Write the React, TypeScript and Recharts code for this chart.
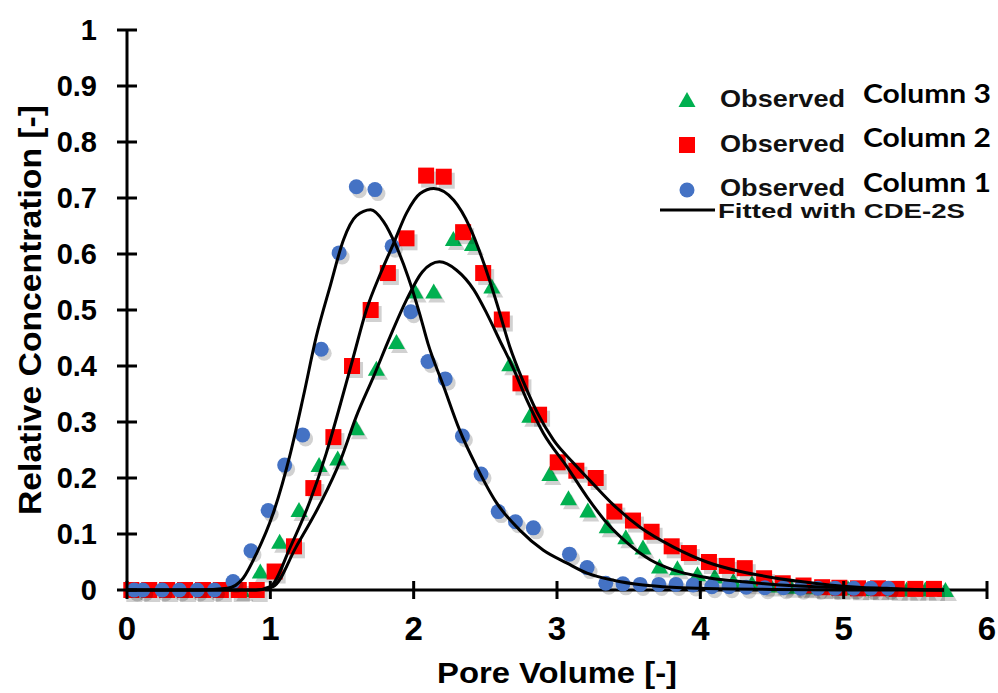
import { Scatter, ScatterChart, XAxis, YAxis } from "recharts";

const col1PV = [0.05, 0.11, 0.245, 0.365, 0.49, 0.61, 0.74, 0.865, 0.985, 1.1, 1.225, 1.355, 1.48, 1.6, 1.73, 1.85, 1.98, 2.1, 2.22, 2.34, 2.47, 2.59, 2.71, 2.835, 3.087, 3.21, 3.34, 3.46, 3.58, 3.71, 3.83, 3.95, 4.08, 4.2, 4.32, 4.45, 4.58, 4.7, 4.82, 4.94, 5.07, 5.19, 5.31];
const col1C = [0, 0, 0, 0, 0, 0, 0.015, 0.07, 0.142, 0.223, 0.277, 0.43, 0.602, 0.72, 0.715, 0.614, 0.497, 0.408, 0.377, 0.275, 0.207, 0.14, 0.122, 0.111, 0.064, 0.04, 0.012, 0.011, 0.01, 0.01, 0.01, 0.009, 0.006, 0.006, 0.005, 0.004, 0.004, 0.003, 0.003, 0.003, 0.003, 0.003, 0.003];

const col2PV = [0.03, 0.155, 0.28, 0.405, 0.53, 0.655, 0.78, 0.905, 1.03, 1.165, 1.3, 1.44, 1.57, 1.7, 1.82, 1.95, 2.087, 2.21, 2.345, 2.485, 2.615, 2.745, 2.875, 3.005, 3.135, 3.27, 3.4, 3.53, 3.66, 3.8, 3.92, 4.06, 4.185, 4.31, 4.445, 4.575, 4.72, 4.85, 4.97, 5.1, 5.24, 5.37, 5.5, 5.63];
const col2C = [0, 0, 0, 0, 0, 0, 0, 0, 0.033, 0.078, 0.182, 0.273, 0.4, 0.5, 0.566, 0.628, 0.74, 0.738, 0.639, 0.566, 0.483, 0.369, 0.313, 0.228, 0.213, 0.2, 0.14, 0.124, 0.104, 0.078, 0.066, 0.05, 0.043, 0.039, 0.021, 0.012, 0.008, 0.005, 0.004, 0.003, 0.003, 0.002, 0.002, 0.002];

const col3PV = [0.8, 0.93, 1.065, 1.2, 1.34, 1.47, 1.6, 1.74, 1.88, 2.01, 2.14, 2.277, 2.41, 2.545, 2.67, 2.81, 2.95, 3.08, 3.215, 3.35, 3.48, 3.6, 3.715, 3.84, 3.98, 4.1, 4.23, 4.36, 4.49, 4.63, 4.76, 4.9, 5.03, 5.17, 5.3, 5.44, 5.57, 5.71];
const col3C = [0, 0.033, 0.086, 0.143, 0.223, 0.235, 0.289, 0.395, 0.443, 0.533, 0.533, 0.627, 0.618, 0.542, 0.403, 0.311, 0.207, 0.164, 0.142, 0.114, 0.094, 0.076, 0.042, 0.039, 0.028, 0.024, 0.016, 0.012, 0.008, 0.006, 0.005, 0.004, 0.003, 0.002, 0.002, 0.001, 0.001, 0];

// CDE-2S fitted curves
const fit1PV = [0, 0.5, 0.7, 0.81, 0.905, 1.02, 1.14, 1.23, 1.32, 1.42, 1.51, 1.6, 1.7, 1.79, 1.88, 1.96, 2.04, 2.1, 2.21, 2.32, 2.44, 2.58, 2.74, 2.905, 3.07, 3.21, 3.4, 3.6, 3.8, 4.0, 4.5, 5.0, 5.7];
const fit1C = [0, 0, 0.003, 0.021, 0.066, 0.137, 0.244, 0.345, 0.452, 0.545, 0.625, 0.668, 0.679, 0.658, 0.613, 0.56, 0.495, 0.44, 0.363, 0.286, 0.22, 0.155, 0.107, 0.071, 0.048, 0.03, 0.017, 0.009, 0.005, 0.003, 0.001, 0, 0];

const fit2PV = [0, 0.9, 1.0, 1.14, 1.28, 1.39, 1.49, 1.58, 1.67, 1.77, 1.86, 1.95, 2.045, 2.14, 2.28, 2.39, 2.49, 2.58, 2.67, 2.765, 2.86, 2.975, 3.11, 3.25, 3.39, 3.58, 3.81, 4.045, 4.28, 4.51, 4.7, 4.9, 5.1, 5.3, 5.5, 5.7];
const fit2C = [0, 0, 0.006, 0.077, 0.161, 0.244, 0.333, 0.417, 0.5, 0.566, 0.619, 0.673, 0.708, 0.717, 0.696, 0.649, 0.583, 0.512, 0.435, 0.372, 0.318, 0.268, 0.228, 0.19, 0.153, 0.112, 0.077, 0.05, 0.033, 0.022, 0.015, 0.009, 0.005, 0.003, 0.001, 0];

const fit3PV = [0, 0.9, 1.02, 1.18, 1.35, 1.49, 1.6, 1.72, 1.835, 1.95, 2.06, 2.18, 2.3, 2.42, 2.51, 2.6, 2.7, 2.79, 2.905, 3.07, 3.21, 3.35, 3.49, 3.65, 3.81, 4.0, 4.28, 4.51, 4.8, 5.1, 5.4, 5.7];
const fit3C = [0, 0, 0.006, 0.077, 0.155, 0.232, 0.31, 0.381, 0.452, 0.518, 0.568, 0.586, 0.571, 0.536, 0.494, 0.446, 0.393, 0.339, 0.28, 0.22, 0.166, 0.119, 0.084, 0.054, 0.036, 0.024, 0.015, 0.01, 0.006, 0.003, 0.001, 0];

const xTicks = [0, 1, 2, 3, 4, 5, 6];
const yTicks = [0, 0.1, 0.2, 0.3, 0.4, 0.5, 0.6, 0.7, 0.8, 0.9, 1];
const yTickLabels = ["0", "0.1", "0.2", "0.3", "0.4", "0.5", "0.6", "0.7", "0.8", "0.9", "1"];

const GREEN = "#00B050";
const RED = "#FF0000";
const BLUE = "#4472C4";
const SHADOW = "rgba(0,0,0,0.18)";
const ARIAL = "'Liberation Sans', Arial, sans-serif";
const CALIBRI = "Lato, 'Open Sans', sans-serif";

const toPoints = (pv: number[], c: number[]) => pv.map((x, i) => ({ x, y: c[i] }));

function YTick(props: any) {
  const { x, y, index } = props;
  return (
    <g>
      <line x1={x - 10} x2={x + 10} y1={y} y2={y} stroke="#000" strokeWidth={3} />
      <text x={x - 30} y={y + 10} textAnchor="end" fontFamily={ARIAL} fontWeight={700} fontSize={29} fill="#000">
        {yTickLabels[index]}
      </text>
    </g>
  );
}

function XTick(props: any) {
  const { x, y, payload } = props;
  return (
    <g>
      <line x1={x} x2={x} y1={y - 9} y2={y + 9} stroke="#000" strokeWidth={3} />
      <text x={x} y={y + 50} textAnchor="middle" fontFamily={ARIAL} fontWeight={700} fontSize={33} fill="#000">
        {payload.value}
      </text>
    </g>
  );
}

// markers carry a soft offset shadow like the original Excel export
const triPath = (cx: number, cy: number) => `M${cx},${cy - 8} L${cx + 8.5},${cy + 7} L${cx - 8.5},${cy + 7} Z`;
const Triangle = (p: any) => (
  <g>
    <path d={triPath(p.cx + 3, p.cy + 4)} fill={SHADOW} />
    <path d={triPath(p.cx, p.cy)} fill={GREEN} />
  </g>
);
const Square = (p: any) => (
  <g>
    <rect x={p.cx - 5} y={p.cy - 4} width={16} height={16} fill={SHADOW} />
    <rect x={p.cx - 8} y={p.cy - 8} width={16} height={16} fill={RED} />
  </g>
);
const Dot = (p: any) => (
  <g>
    <circle cx={p.cx + 3} cy={p.cy + 4} r={7.5} fill={SHADOW} />
    <circle cx={p.cx} cy={p.cy} r={7.5} fill={BLUE} />
  </g>
);
const NoMark = () => <g />;

const fitLine = { stroke: "#000", strokeWidth: 3 };

export default function App() {
  return (
    <div style={{ position: "absolute", left: 0, top: 0, width: 998, height: 693, background: "#fff" }}>
      <ScatterChart width={998} height={693} margin={{ top: 30, right: 11, bottom: 0, left: 0 }}>
        <XAxis
          type="number"
          dataKey="x"
          domain={[0, 6]}
          ticks={xTicks}
          interval={0}
          height={103}
          tickSize={0}
          tickMargin={0}
          tickLine={false}
          tick={XTick}
          axisLine={{ stroke: "#000", strokeWidth: 3 }}
        />
        <YAxis
          type="number"
          dataKey="y"
          domain={[0, 1]}
          ticks={yTicks}
          interval={0}
          width={127}
          tickSize={0}
          tickMargin={0}
          tickLine={false}
          tick={YTick}
          axisLine={{ stroke: "#000", strokeWidth: 3 }}
        />
        <Scatter data={toPoints(col3PV, col3C)} shape={Triangle} isAnimationActive={false} />
        <Scatter data={toPoints(col2PV, col2C)} shape={Square} isAnimationActive={false} />
        <Scatter data={toPoints(col1PV, col1C)} shape={Dot} isAnimationActive={false} />
        <Scatter data={toPoints(fit1PV, fit1C)} line={fitLine} lineJointType="monotoneX" shape={NoMark} isAnimationActive={false} />
        <Scatter data={toPoints(fit2PV, fit2C)} line={fitLine} lineJointType="monotoneX" shape={NoMark} isAnimationActive={false} />
        <Scatter data={toPoints(fit3PV, fit3C)} line={fitLine} lineJointType="monotoneX" shape={NoMark} isAnimationActive={false} />
      </ScatterChart>

      <svg width={998} height={693} style={{ position: "absolute", left: 0, top: 0, pointerEvents: "none" }}>
        {/* axis titles */}
        <text x={557} y={683} textAnchor="middle" fontFamily={ARIAL} fontWeight={700} fontSize={30} fill="#000" textLength={240} lengthAdjust="spacingAndGlyphs">
          Pore Volume [-]
        </text>
        <text
          transform="translate(41,310) rotate(-90)"
          textAnchor="middle"
          fontFamily={ARIAL}
          fontWeight={700}
          fontSize={31}
          fill="#000"
          textLength={410}
          lengthAdjust="spacingAndGlyphs"
        >
          Relative Concentration [-]
        </text>

        {/* legend */}
        <path d="M687,92 L695.5,107 L678.5,107 Z" fill={GREEN} />
        <text x={720} y={107} fontFamily={ARIAL} fontWeight={700} fontSize={24} fill="#111" textLength={125} lengthAdjust="spacingAndGlyphs">Observed</text>
        <text x={863} y={103} fontFamily={CALIBRI} fontWeight={700} fontSize={27} fill="#000" textLength={128} lengthAdjust="spacingAndGlyphs">Column 3</text>

        <rect x={679} y={137} width={16} height={16} fill={RED} />
        <text x={720} y={152} fontFamily={ARIAL} fontWeight={700} fontSize={24} fill="#111" textLength={125} lengthAdjust="spacingAndGlyphs">Observed</text>
        <text x={863} y={147} fontFamily={CALIBRI} fontWeight={700} fontSize={27} fill="#000" textLength={128} lengthAdjust="spacingAndGlyphs">Column 2</text>

        <circle cx={687} cy={190} r={7.5} fill={BLUE} />
        <text x={720} y={196} fontFamily={ARIAL} fontWeight={700} fontSize={24} fill="#111" textLength={125} lengthAdjust="spacingAndGlyphs">Observed</text>
        <text x={863} y={192} fontFamily={CALIBRI} fontWeight={700} fontSize={27} fill="#000" textLength={128} lengthAdjust="spacingAndGlyphs">Column 1</text>

        <line x1={660} x2={715} y1={210} y2={210} stroke="#000" strokeWidth={3} />
        <text x={718} y={218} fontFamily={ARIAL} fontWeight={700} fontSize={21} fill="#111" textLength={247} lengthAdjust="spacingAndGlyphs">Fitted with CDE-2S</text>
      </svg>
    </div>
  );
}
